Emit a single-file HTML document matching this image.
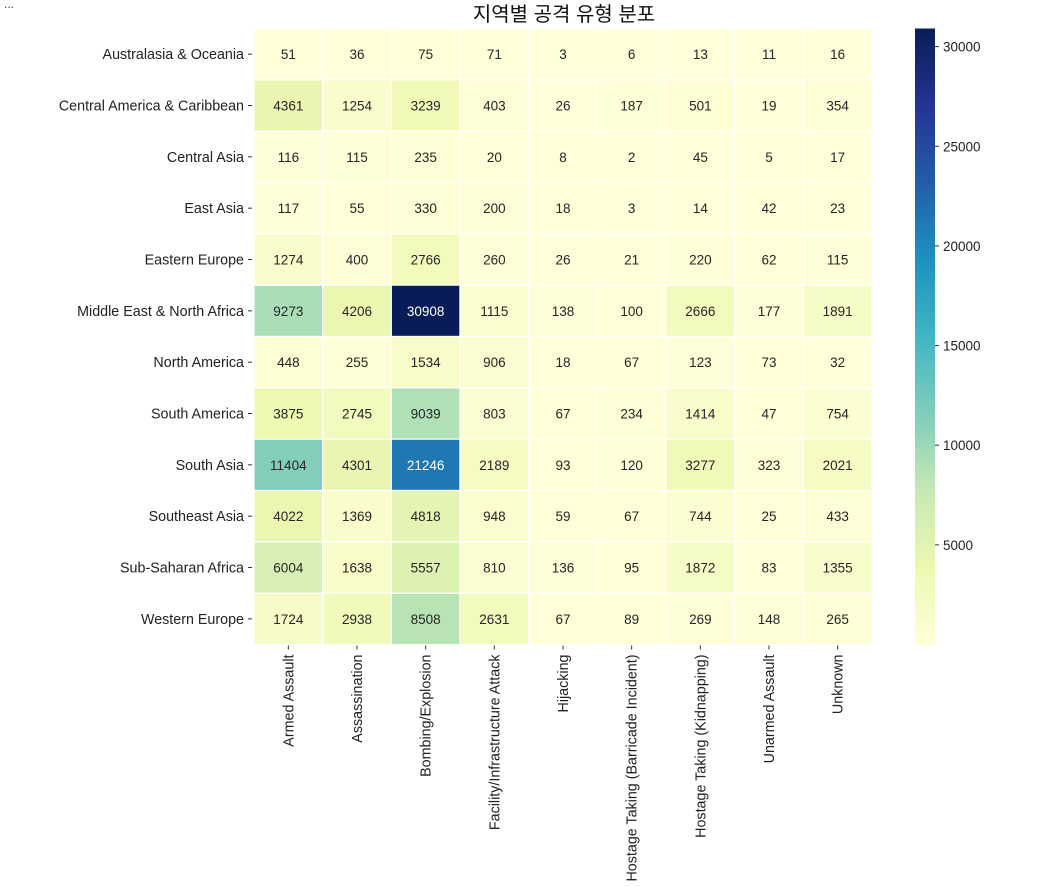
<!DOCTYPE html>
<html><head><meta charset="utf-8">
<style>
body{margin:0;background:#fff;width:1056px;height:881px;overflow:hidden;font-family:"Liberation Sans","Noto Sans CJK KR",sans-serif;}
svg text{font-family:"Liberation Sans","Noto Sans CJK KR",sans-serif;}
</style></head>
<body>
<svg id="chart" width="1056" height="881" xmlns="http://www.w3.org/2000/svg">
<text x="4" y="8" font-size="12" fill="#444">...</text>
<text x="564" y="21" font-size="20" text-anchor="middle" fill="#111">지역별 공격 유형 분포</text>
<g id="cells"></g><g id="ylabels"></g><g id="xlabels"></g><g id="cbar"></g>
</svg>
<script>
const regions=["Australasia & Oceania","Central America & Caribbean","Central Asia","East Asia","Eastern Europe","Middle East & North Africa","North America","South America","South Asia","Southeast Asia","Sub-Saharan Africa","Western Europe"];
const attackTypes=["Armed Assault","Assassination","Bombing/Explosion","Facility/Infrastructure Attack","Hijacking","Hostage Taking (Barricade Incident)","Hostage Taking (Kidnapping)","Unarmed Assault","Unknown"];
const values=[
[51,36,75,71,3,6,13,11,16],
[4361,1254,3239,403,26,187,501,19,354],
[116,115,235,20,8,2,45,5,17],
[117,55,330,200,18,3,14,42,23],
[1274,400,2766,260,26,21,220,62,115],
[9273,4206,30908,1115,138,100,2666,177,1891],
[448,255,1534,906,18,67,123,73,32],
[3875,2745,9039,803,67,234,1414,47,754],
[11404,4301,21246,2189,93,120,3277,323,2021],
[4022,1369,4818,948,59,67,744,25,433],
[6004,1638,5557,810,136,95,1872,83,1355],
[1724,2938,8508,2631,67,89,269,148,265]];
const cbTicks=[5000,10000,15000,20000,25000,30000];

const NS="http://www.w3.org/2000/svg";
const L=254,T=28.5,W=618,H=616;
const cw=W/attackTypes.length,ch=H/regions.length;
const all=values.flat();const vmin=Math.min(...all),vmax=Math.max(...all);
const stops=["#ffffd9","#edf8b1","#c7e9b4","#7fcdbb","#41b6c4","#1d91c0","#225ea8","#253494","#081d58"].map(h=>[1,3,5].map(i=>parseInt(h.substr(i,2),16)));
function cmap(v){let t=(v-vmin)/(vmax-vmin);t=Math.max(0,Math.min(1,t));const p=t*(stops.length-1);const i=Math.min(Math.floor(p),stops.length-2);const f=p-i;return stops[i].map((c,k)=>Math.round(c+(stops[i+1][k]-c)*f));}
function mk(tag,a,parent,txt){const e=document.createElementNS(NS,tag);for(const k in a)e.setAttribute(k,a[k]);if(txt!==undefined)e.textContent=txt;parent.appendChild(e);return e;}
const xs=j=>L+j*cw, ys=i=>T+i*ch;
const cells=document.getElementById('cells');
values.forEach((row,i)=>row.forEach((v,j)=>{
 const c=cmap(v);
 const r=mk('rect',{x:xs(j),y:ys(i),width:cw,height:ch,fill:`rgb(${c})`,stroke:'#fff','stroke-width':1.2},cells);
 
 
 const lum=(0.2126*c[0]+0.7152*c[1]+0.0722*c[2])/255;
 const t=mk('text',{x:xs(j)+cw/2,y:ys(i)+ch/2+5,'font-size':13.5,'text-anchor':'middle',fill:lum<0.45?'#fff':'#262626'},cells,String(v));
 
 
}));
const yl=document.getElementById('ylabels');
regions.forEach((r,i)=>{
 const y=ys(i)+ch/2;
 mk('line',{x1:L-6,x2:L-2,y1:y,y2:y,stroke:'#333'},yl);
 const t=mk('text',{x:L-10,y:y+5,'font-size':14.3,'text-anchor':'end',fill:'#222'},yl,r);
 
 
});
const xl=document.getElementById('xlabels');
attackTypes.forEach((a,j)=>{
 const x=xs(j)+cw/2;
 mk('line',{x1:x,x2:x,y1:T+H+1,y2:T+H+5,stroke:'#333'},xl);
 const t=mk('text',{x:0,y:0,'font-size':14.3,'text-anchor':'end',fill:'#222',transform:`translate(${x+5},${T+H+10}) rotate(-90)`},xl,a);
 
 
});
const cb=document.getElementById('cbar');
const cx=915,cwid=20;
const cy=v=>T+H-(v-vmin)/(vmax-vmin)*H;
for(let k=0;k<200;k++){const v0=vmin+(vmax-vmin)*k/200,v1=vmin+(vmax-vmin)*(k+1)/200;const c=cmap((v0+v1)/2);
 mk('rect',{x:cx,y:cy(v1),width:cwid,height:cy(v0)-cy(v1)+0.6,fill:`rgb(${c})`},cb);}
cbTicks.forEach(v=>{const y=cy(v);
 mk('line',{x1:cx+cwid,x2:cx+cwid+4,y1:y,y2:y,stroke:'#333'},cb);
 const t=mk('text',{x:cx+cwid+8,y:y+5,'font-size':13.5,fill:'#222'},cb,String(v));
 
 
});


</script>
</body></html>
